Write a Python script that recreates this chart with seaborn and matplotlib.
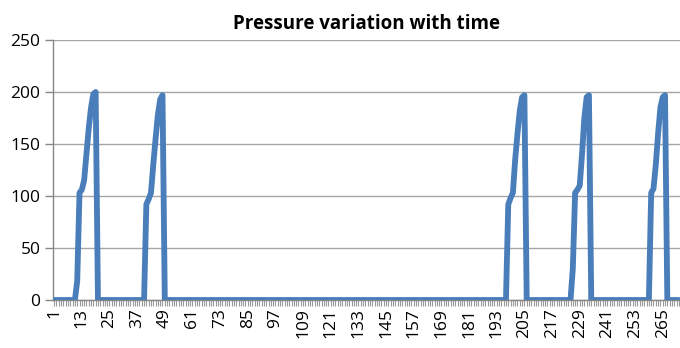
import numpy as np
import pandas as pd
import matplotlib
matplotlib.use("Agg")
import matplotlib.pyplot as plt
import seaborn as sns

# ---- data ----
n_points = 272
pulse1_start, pulse1 = 11, [18, 103, 106, 115, 140, 165, 185, 198, 200]
pulse2_start, pulse2 = 41, [92, 97, 103, 130, 155, 178, 193, 197]
pulse3_start, pulse3 = 198, [92, 98, 103, 135, 160, 182, 195, 197]
pulse4_start, pulse4 = 226, [30, 103, 106, 110, 140, 175, 195, 197]
pulse5_start, pulse5 = 260, [103, 107, 130, 160, 185, 195, 197]
tick_labels = [str(v) for v in range(1, 266, 12)]
title = "Pressure variation with time"

pressure = [0.0] * n_points
for start, vals in [(pulse1_start, pulse1), (pulse2_start, pulse2),
                    (pulse3_start, pulse3), (pulse4_start, pulse4),
                    (pulse5_start, pulse5)]:
    for k, v in enumerate(vals):
        pressure[start - 1 + k] = v

df = pd.DataFrame({"time": np.arange(1, n_points + 1), "pressure": pressure})

# ---- style ----
sns.set_theme(style="white")
plt.rcParams["font.family"] = ["Open Sans", "DejaVu Sans"]

fig = plt.figure(figsize=(6.8, 3.48), dpi=100)
ax = fig.add_axes([53 / 680, 1 - 300 / 348, 1 - 53 / 680, 260 / 348])

sns.lineplot(data=df, x="time", y="pressure", ax=ax, color="#4A7EBB",
             linewidth=4.2, solid_joinstyle="round", solid_capstyle="round",
             zorder=3)

ax.set_xlim(0.5, n_points + 0.5)
ax.set_ylim(0, 250)
ax.set_yticks(range(0, 251, 50))
ax.set_xticks(range(1, n_points + 1))
ax.set_xticklabels([str(i) if str(i) in tick_labels else "" for i in range(1, n_points + 1)],
                   rotation=90)
ax.set_xlabel("")
ax.set_ylabel("")

ax.yaxis.grid(True, color="#A6A6A6", linewidth=1.0)
ax.xaxis.grid(False)
for side in ["top", "right"]:
    ax.spines[side].set_visible(False)
for side in ["left", "bottom"]:
    ax.spines[side].set_color("#868686")
    ax.spines[side].set_linewidth(1.0)

ax.tick_params(axis="y", which="major", left=True, length=6, width=1,
               color="#868686", labelsize=12.5, pad=3, labelcolor="#000000")
ax.tick_params(axis="x", which="major", bottom=True, length=4, width=0.8,
               color="#9A9A9A", labelsize=12.5, pad=2, labelcolor="#000000")

ax.set_title(title, fontsize=13.5, fontweight="bold", pad=8, color="#000000")

fig.savefig("out.png", dpi=100)
